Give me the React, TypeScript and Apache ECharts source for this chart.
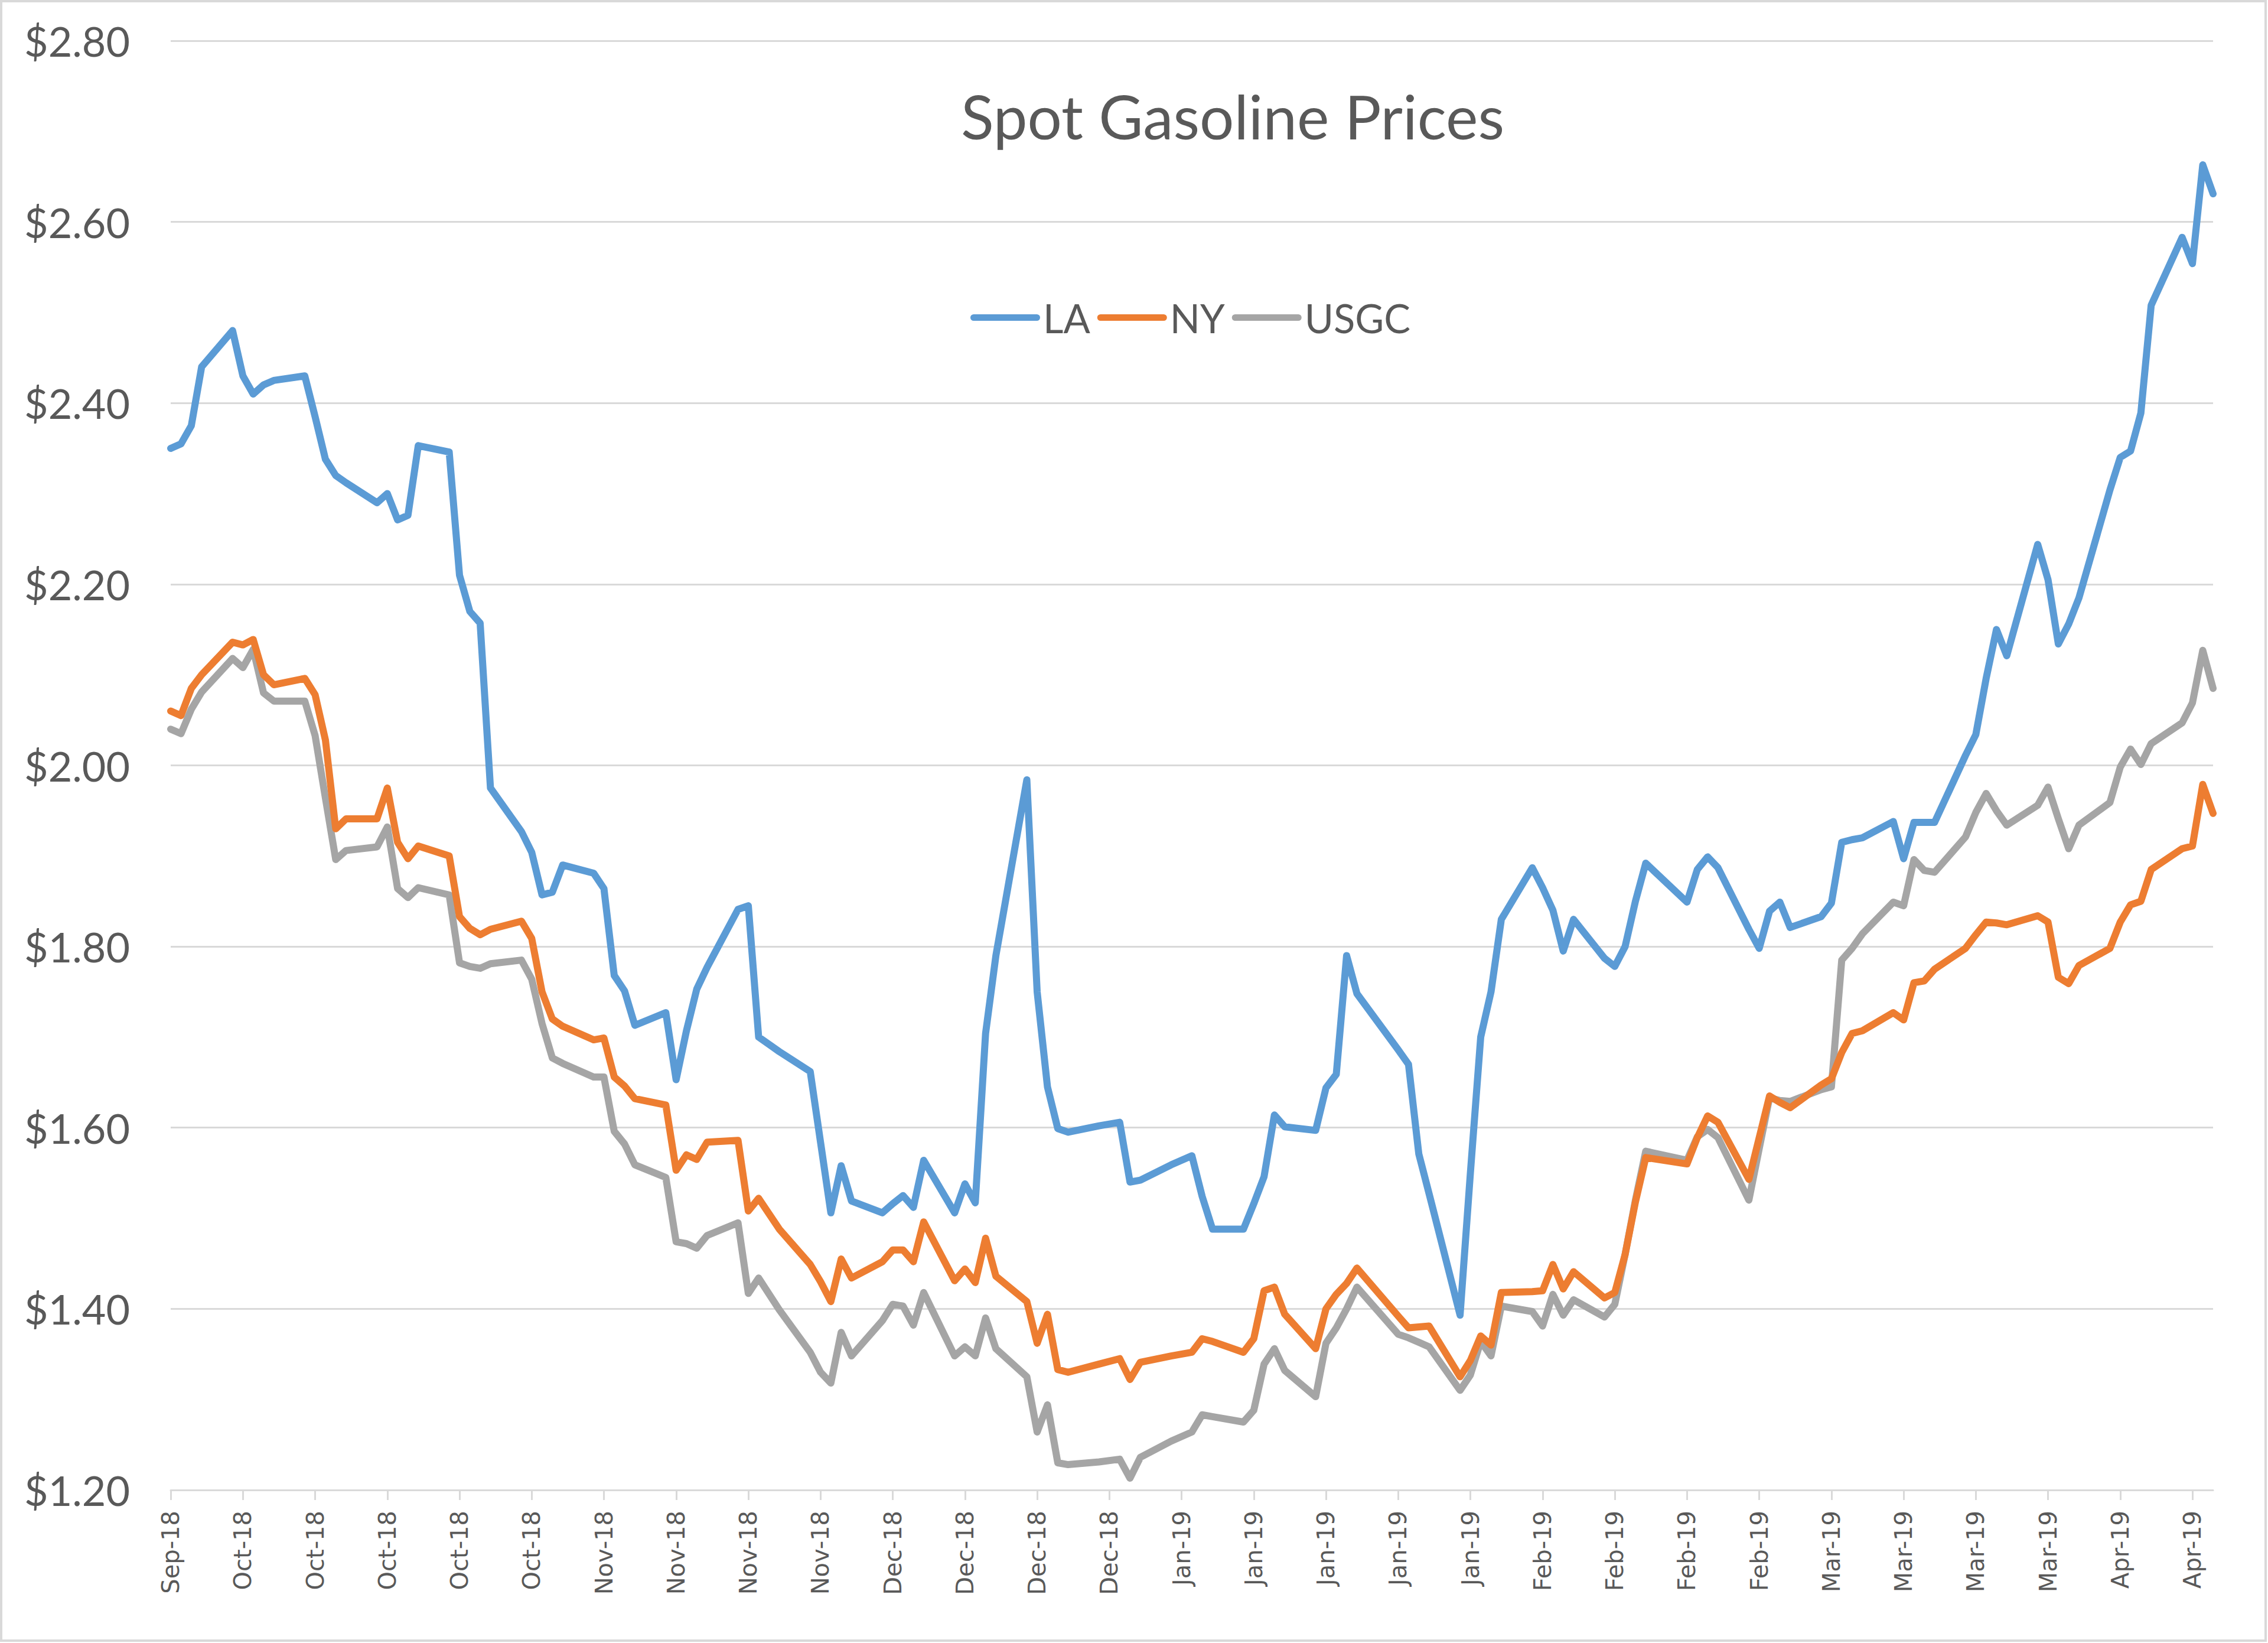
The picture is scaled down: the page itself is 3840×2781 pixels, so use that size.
import React, { useEffect, useRef } from "react";
import * as echarts from "echarts";

// ---------- axis / calendar definitions ----------
const MONTHS = ["Jan", "Feb", "Mar", "Apr", "May", "Jun", "Jul", "Aug", "Sep", "Oct", "Nov", "Dec"];
const FIRST_DAY = "2018-09-25";
const LAST_DAY = "2019-04-11";
const HOLIDAYS = ["2018-11-22", "2018-12-25", "2019-01-01", "2019-01-21", "2019-02-18"];
const LABEL_EVERY_DAYS = 7;
const Y_MIN = 1.2;
const Y_MAX = 2.8;
const Y_STEP = 0.2;
const SERIES_NAMES = ["LA", "NY", "USGC"];
const SERIES_COLORS = ["#5B9BD5", "#ED7D31", "#A5A5A5"];

// ---------- values, one per trading day (weekly rows: Tue Wed Thu Fri Mon) ----------
const LA = [
  2.350, 2.355, 2.375, 2.440, 2.480,
  2.430, 2.410, 2.420, 2.425, 2.430,
  2.385, 2.338, 2.320, 2.312, 2.290,
  2.300, 2.271, 2.276, 2.353, 2.346,
  2.210, 2.170, 2.157, 1.975, 1.927,
  1.904, 1.857, 1.860, 1.890, 1.881,
  1.864, 1.768, 1.751, 1.713, 1.727,
  1.653, 1.707, 1.753, 1.777, 1.841,
  1.845, 1.700, 1.684, 1.662,
  1.584, 1.506, 1.558, 1.519, 1.506,
  1.516, 1.525, 1.512, 1.564, 1.506,
  1.538, 1.517, 1.704, 1.790, 1.984,
  1.750, 1.645, 1.599, 1.595, 1.602,
  1.606, 1.540, 1.542, 1.559,
  1.569, 1.524, 1.488, 1.488,
  1.516, 1.546, 1.614, 1.601, 1.597,
  1.644, 1.659, 1.790, 1.748,
  1.686, 1.670, 1.571, 1.527, 1.393,
  1.550, 1.700, 1.750, 1.830, 1.887,
  1.865, 1.840, 1.795, 1.830, 1.787,
  1.778, 1.800, 1.850, 1.892,
  1.849, 1.885, 1.899, 1.887, 1.819,
  1.798, 1.839, 1.849, 1.821, 1.833,
  1.848, 1.915, 1.918, 1.920, 1.938,
  1.897, 1.937, 1.937, 1.937, 2.011,
  2.034, 2.096, 2.150, 2.121, 2.244,
  2.205, 2.134, 2.156, 2.185, 2.304,
  2.340, 2.347, 2.389, 2.508, 2.583,
  2.554, 2.663, 2.631,
];

const NY = [
  2.060, 2.055, 2.085, 2.100, 2.136,
  2.133, 2.139, 2.100, 2.089, 2.096,
  2.078, 2.028, 1.930, 1.941, 1.941,
  1.975, 1.915, 1.897, 1.911, 1.900,
  1.833, 1.820, 1.813, 1.819, 1.828,
  1.809, 1.750, 1.720, 1.712, 1.697,
  1.699, 1.656, 1.646, 1.632, 1.625,
  1.553, 1.570, 1.565, 1.584, 1.586,
  1.508, 1.522, 1.488, 1.449,
  1.430, 1.408, 1.455, 1.434, 1.452,
  1.465, 1.465, 1.452, 1.496, 1.431,
  1.444, 1.429, 1.478, 1.436, 1.408,
  1.362, 1.394, 1.333, 1.330, 1.339,
  1.345, 1.322, 1.341, 1.348,
  1.352, 1.367, 1.364, 1.352,
  1.367, 1.420, 1.424, 1.394, 1.356,
  1.400, 1.416, 1.428, 1.445,
  1.392, 1.379, 1.380, 1.381, 1.325,
  1.343, 1.370, 1.360, 1.418, 1.419,
  1.420, 1.449, 1.422, 1.441, 1.412,
  1.418, 1.460, 1.518, 1.567,
  1.560, 1.589, 1.613, 1.606, 1.543,
  1.589, 1.635, 1.628, 1.622, 1.647,
  1.654, 1.683, 1.704, 1.707, 1.727,
  1.719, 1.760, 1.762, 1.775, 1.798,
  1.813, 1.827, 1.826, 1.824, 1.834,
  1.827, 1.766, 1.759, 1.779, 1.798,
  1.827, 1.846, 1.850, 1.885, 1.908,
  1.911, 1.979, 1.947,
];

const USGC = [
  2.040, 2.035, 2.062, 2.081, 2.118,
  2.108, 2.128, 2.080, 2.071, 2.071,
  2.033, 1.964, 1.896, 1.906, 1.910,
  1.932, 1.864, 1.854, 1.865, 1.857,
  1.782, 1.778, 1.776, 1.781, 1.785,
  1.764, 1.715, 1.677, 1.671, 1.656,
  1.656, 1.596, 1.582, 1.559, 1.545,
  1.474, 1.472, 1.467, 1.481, 1.495,
  1.417, 1.434, 1.399, 1.352,
  1.330, 1.318, 1.374, 1.348, 1.387,
  1.405, 1.403, 1.382, 1.418, 1.348,
  1.358, 1.348, 1.390, 1.356, 1.325,
  1.264, 1.294, 1.230, 1.228, 1.231,
  1.234, 1.213, 1.236, 1.254,
  1.264, 1.283, 1.281, 1.275,
  1.288, 1.339, 1.356, 1.332, 1.303,
  1.362, 1.379, 1.400, 1.424,
  1.372, 1.368, 1.363, 1.358, 1.310,
  1.327, 1.364, 1.348, 1.403, 1.397,
  1.381, 1.416, 1.393, 1.410, 1.391,
  1.405, 1.460, 1.520, 1.574,
  1.564, 1.590, 1.598, 1.589, 1.520,
  1.577, 1.633, 1.630, 1.629, 1.642,
  1.645, 1.785, 1.798, 1.814, 1.849,
  1.845, 1.896, 1.884, 1.882, 1.921,
  1.948, 1.969, 1.950, 1.934, 1.956,
  1.976, 1.941, 1.908, 1.934, 1.959,
  1.998, 2.018, 2.001, 2.024, 2.047,
  2.069, 2.127, 2.085,
];

const SERIES_VALUES = [LA, NY, USGC];

// ---------- derived calendar (categories of the date axis) ----------
function buildCalendar(): string[] {
  const out: string[] = [];
  let t = Date.parse(FIRST_DAY + "T00:00:00Z");
  const end = Date.parse(LAST_DAY + "T00:00:00Z");
  while (t <= end) {
    out.push(new Date(t).toISOString().slice(0, 10));
    t += 86400000;
  }
  return out;
}
const calendarDays = buildCalendar();
const tradeDates = calendarDays.filter((d) => {
  const wd = new Date(d + "T00:00:00Z").getUTCDay();
  return wd !== 0 && wd !== 6 && !HOLIDAYS.includes(d);
});

function alignToCalendar(values: number[]): (number | null)[] {
  const byDate = new Map<string, number>();
  tradeDates.forEach((d, i) => {
    if (i < values.length) byDate.set(d, values[i]);
  });
  return calendarDays.map((d) => (byDate.has(d) ? (byDate.get(d) as number) : null));
}

function monthLabel(d: string): string {
  const [y, m] = d.split("-");
  return MONTHS[Number(m) - 1] + "-" + y.slice(2);
}

const showEvery = (index: number) => index % LABEL_EVERY_DAYS === 0;

const TEXT_COLOR = "#595959";
const GRID_COLOR = "#d9d9d9";

export default function App() {
  const ref = useRef<HTMLDivElement>(null);

  useEffect(() => {
    document.body.style.margin = "0";
    if (!ref.current) return;
    const chart = echarts.init(ref.current, null, { renderer: "svg" });

    const option: any = {
      animation: false,
      backgroundColor: "#ffffff",
      textStyle: { fontFamily: "Lato" },
      graphic: [
        {
          type: "rect",
          silent: true,
          z: 0,
          shape: { x: 2, y: 2, width: 3834, height: 2775 },
          style: { fill: "none", stroke: GRID_COLOR, lineWidth: 4 },
        },
        {
          type: "text",
          silent: true,
          x: 2087,
          y: 196,
          style: {
            text: "Spot Gasoline Prices",
            fill: TEXT_COLOR,
            fontFamily: "Lato",
            fontSize: 103,
            textAlign: "center",
            textVerticalAlign: "middle",
          },
        },
      ],
      legend: {
        data: SERIES_NAMES,
        left: 1638,
        top: 499,
        itemWidth: 118,
        itemHeight: 11,
        itemGap: 12,
        icon: "path://M5.5,0H112.5A5.5,5.5,0,0,1,112.5,11H5.5A5.5,5.5,0,0,1,5.5,0Z",
        textStyle: { fontFamily: "Lato", fontSize: 67, color: TEXT_COLOR },
      },
      grid: { left: 289, right: 93, top: 69, bottom: 259, containLabel: false },
      xAxis: {
        type: "category",
        data: calendarDays,
        boundaryGap: false,
        axisLine: { show: true, lineStyle: { color: GRID_COLOR, width: 3 } },
        axisTick: {
          show: true,
          interval: (i: number) => showEvery(i),
          length: 17,
          lineStyle: { color: GRID_COLOR, width: 3 },
        },
        axisLabel: {
          interval: (i: number) => showEvery(i),
          rotate: 90,
          margin: 35,
          fontFamily: "DejaVu Sans",
          fontSize: 40,
          color: TEXT_COLOR,
          formatter: (v: string) => monthLabel(v),
        },
        splitLine: { show: false },
      },
      yAxis: {
        type: "value",
        min: Y_MIN,
        max: Y_MAX,
        interval: Y_STEP,
        axisLine: { show: false },
        axisTick: { show: false },
        axisLabel: {
          margin: 69,
          fontFamily: "Lato",
          fontSize: 70,
          color: TEXT_COLOR,
          formatter: (v: number) => "$" + v.toFixed(2),
        },
        splitLine: { show: true, lineStyle: { color: GRID_COLOR, width: 3 } },
      },
      series: SERIES_NAMES.map((name, i) => ({
        name,
        type: "line",
        data: alignToCalendar(SERIES_VALUES[i]),
        connectNulls: true,
        showSymbol: false,
        symbol: "none",
        color: SERIES_COLORS[i],
        lineStyle: { color: SERIES_COLORS[i], width: 12, cap: "round", join: "round" },
        z: 2 + (2 - i),
      })),
    };

    chart.setOption(option);
    return () => {
      chart.dispose();
    };
  }, []);

  return <div ref={ref} style={{ width: 3840, height: 2781 }} />;
}
